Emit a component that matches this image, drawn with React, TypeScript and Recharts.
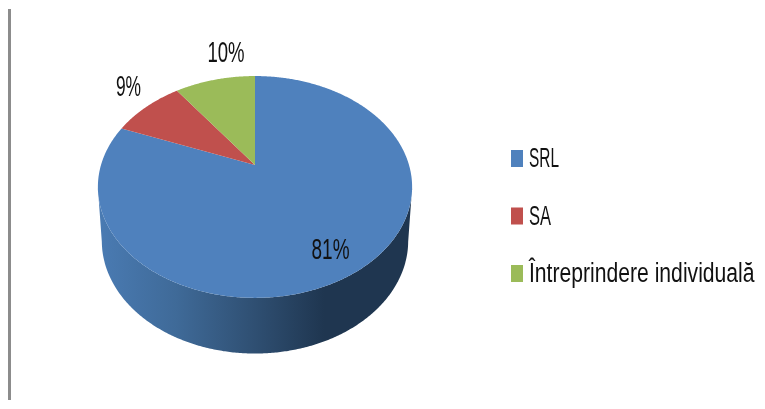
import React from 'react';
import { PieChart, Pie, Legend } from 'recharts';

const categories = ['SRL', 'SA', 'Întreprindere individuală'];
const shares = [81, 9, 10];
const colors = ['#4F81BD', '#C0504D', '#9BBB59'];

const data = categories.map((name, i) => ({ name, value: shares[i], fill: colors[i] }));

const FONT = '"Liberation Sans", Arial, sans-serif';
const TILT = 0.692; // vertical squash of the pie top
const PERSPECTIVE = 0.198; // far edge looks smaller than near edge
const DEPTH = 54;
const LABEL_SHIFT = [[-28, -21], [-18, -21], [11, -28]];
const LABEL_SQUEEZE = [0.655, 0.6, 0.64];
const LEGEND_SQUEEZE = [0.55, 0.59, 0.755];

// circle point -> screen point, the apex stays at (cx, cy)
const project = (cx: number, cy: number, r: number, deg: number) => {
  const u = Math.cos((deg * Math.PI) / 180);
  const v = Math.sin((deg * Math.PI) / 180);
  const d = 1 + PERSPECTIVE * v;
  return { x: cx + (r * u) / d, y: cy - (r * TILT * v) / d };
};

const rimPoints = (p: any) => {
  const n = Math.max(2, Math.ceil(Math.abs(p.endAngle - p.startAngle) * 2));
  const pts = [];
  for (let i = 0; i <= n; i++) {
    const deg = p.startAngle + ((p.endAngle - p.startAngle) * i) / n;
    pts.push(project(p.cx, p.cy, p.outerRadius, deg));
  }
  return pts;
};

const toPath = (pts: { x: number; y: number }[]) =>
  pts.map((q, i) => `${i ? 'L' : 'M'}${q.x.toFixed(2)} ${q.y.toFixed(2)}`).join(' ');

const TopFace = (p: any) => {
  const pts = rimPoints(p);
  return <path d={`M${p.cx} ${p.cy} ${toPath(pts).replace('M', 'L')} Z`} fill={p.fill} stroke="none" />;
};

// side wall, only the part of the rim that faces the viewer
const Wall = (p: any) => {
  const midY = p.cy + 22;
  const top = rimPoints(p).filter((q) => q.y >= midY);
  if (top.length < 2) return null;
  top.sort((a, b) => a.x - b.x);
  const bottom = top
    .map((q) => ({ x: p.cx + (q.x - p.cx) * 0.975, y: midY + DEPTH + (q.y - midY) * 1.015 }))
    .reverse();
  return (
    <g>
      <defs>
        <linearGradient id="wallShade" x1="0" y1="0" x2="1" y2="0">
          <stop offset="0%" stopColor="#4A7BB3" />
          <stop offset="25%" stopColor="#3F6A98" />
          <stop offset="50%" stopColor="#2F4F72" />
          <stop offset="72%" stopColor="#1F3650" />
          <stop offset="100%" stopColor="#1F3650" />
        </linearGradient>
      </defs>
      <path d={`${toPath(top)} ${toPath(bottom).replace('M', 'L')} Z`} fill="url(#wallShade)" stroke="none" />
    </g>
  );
};

const renderLabel = (p: any) => {
  const i = p.index;
  const rim = project(p.cx, p.cy, p.outerRadius, p.midAngle);
  const x = rim.x + LABEL_SHIFT[i][0];
  const y = rim.y + LABEL_SHIFT[i][1];
  return (
    <text
      transform={`translate(${x} ${y}) scale(${LABEL_SQUEEZE[i]} 1)`}
      textAnchor="middle"
      dominantBaseline="central"
      fontFamily={FONT}
      fontSize={29}
      fill="#111"
      style={{ filter: 'blur(0.4px)' }}
    >
      {`${shares[i]}%`}
    </text>
  );
};

const renderLegend = () => (
  <svg width={254} height={170} style={{ display: 'block', overflow: 'visible', filter: 'blur(0.4px)' }}>
    {categories.map((name, i) => (
      <g key={name} transform={`translate(0, ${i * 57.5})`}>
        <rect x={0} y={2} width={12} height={17} fill={colors[i]} />
        <text
          transform={`translate(18 19) scale(${LEGEND_SQUEEZE[i]} 1)`}
          fontFamily={FONT}
          fontSize={28}
          fill="#111"
        >
          {name}
        </text>
      </g>
    ))}
  </svg>
);

export default function App() {
  return (
    <div style={{ position: 'absolute', left: 0, top: 0, width: 765, height: 409, background: '#fff' }}>
      <div style={{ position: 'absolute', left: 8, top: 9, width: 3, height: 391, background: '#8C8C8C' }} />
      <PieChart width={765} height={409} margin={{ top: 0, right: 0, bottom: 0, left: 0 }}>
        <Pie
          data={data}
          dataKey="value"
          nameKey="name"
          cx={255}
          cy={165}
          outerRadius={154}
          startAngle={90}
          endAngle={-270}
          shape={Wall}
          legendType="none"
          stroke="none"
          isAnimationActive={false}
        />
        <Pie
          data={data}
          dataKey="value"
          nameKey="name"
          cx={255}
          cy={165}
          outerRadius={154}
          startAngle={90}
          endAngle={-270}
          shape={TopFace}
          label={renderLabel}
          labelLine={false}
          stroke="none"
          isAnimationActive={false}
        />
        <Legend
          layout="vertical"
          content={renderLegend}
          wrapperStyle={{ position: 'absolute', left: 511, top: 148, width: 254, height: 170 }}
        />
      </PieChart>
    </div>
  );
}
